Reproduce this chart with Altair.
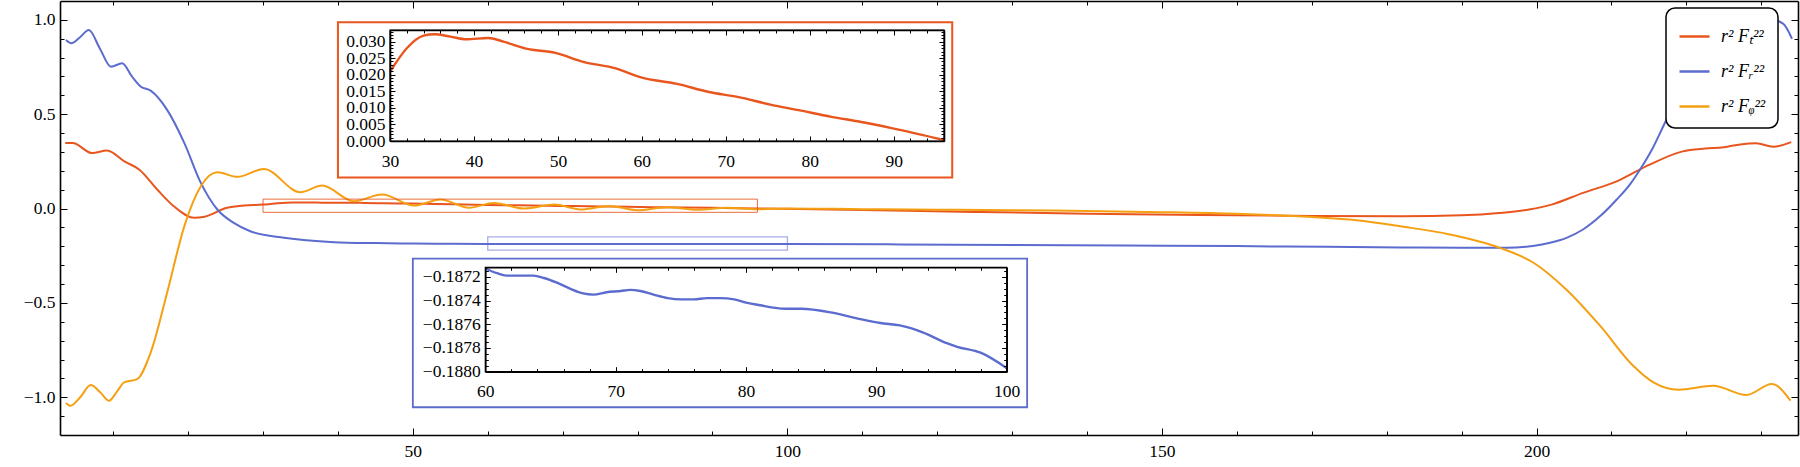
import altair as alt
import pandas as pd

# ---------------- data ----------------
t_x = [3.6, 4.6, 7.2, 9.2, 11.5, 13.5, 15.9, 18.1, 20.8, 22.2, 25.2, 27.5, 30, 32, 34, 35.3, 37.2,
       39.1, 41.7, 43.5, 46.2, 49.7, 53, 56.9, 59.9, 64.1, 68, 71.4, 75.3, 78.7, 82.6, 86, 89.9, 96,
       110, 125, 140, 155, 170, 182, 190, 195, 199, 202, 206.2, 210.7, 215.1, 219.5, 222.5, 225,
       227.2, 229.3, 231.6, 234]
t_y = [0.347, 0.347, 0.294, 0.308, 0.25, 0.206, 0.10, 0.012, -0.049, -0.043, 0.004, 0.016, 0.0209,
       0.028, 0.0318, 0.0322, 0.0315, 0.0307, 0.0311, 0.030, 0.0279, 0.0266, 0.0239, 0.0219, 0.0192,
       0.0173, 0.0148, 0.0133, 0.011, 0.0093, 0.0073, 0.0058, 0.0038, 0.0003, -0.008, -0.018, -0.027,
       -0.034, -0.039, -0.041, -0.036, -0.024, -0.005, 0.021, 0.083, 0.144, 0.233, 0.303, 0.318,
       0.325, 0.34, 0.346, 0.328, 0.352]

r_x = [3.7, 4.4, 5.5, 6.75, 8.2, 9.7, 11.2, 12.5, 13.7, 15, 17.2, 19.5, 21.7, 23.9, 26.1, 28.3,
       32.8, 39.5, 45, 50, 55, 60, 60.9, 61.6, 62.7, 63.7, 64.5, 65.5, 66.5, 67.5, 68.3, 69.3, 70.4,
       71.1, 71.9, 72.9, 74, 75, 76, 77, 78, 79.1, 80.1, 81.1, 82.1, 83.1, 84.2, 86.5, 88.5, 90.3,
       91.8, 93.6, 95.4, 96.2, 98, 100, 115, 130, 145, 160, 172, 182, 190, 196, 199.5, 201.8, 204,
       206.2, 208.5, 210.7, 212.5, 213.8, 215.5, 217.2, 219.5, 222, 225, 228, 230.5, 232.9, 234.1]
r_y = [0.893, 0.876, 0.905, 0.946, 0.85, 0.752, 0.77, 0.7, 0.646, 0.625, 0.523, 0.347, 0.136, -0.005,
       -0.076, -0.12, -0.155, -0.178, -0.183, -0.1855, -0.1868, -0.18713, -0.18717, -0.18719,
       -0.18719, -0.18719, -0.18721, -0.18725, -0.1873, -0.18734, -0.18735, -0.18733, -0.18732,
       -0.18731, -0.18732, -0.18735, -0.18738, -0.18739, -0.18739, -0.18738, -0.18738, -0.18739,
       -0.18742, -0.18744, -0.18746, -0.18747, -0.18747, -0.1875, -0.18755, -0.18759, -0.18761,
       -0.18767, -0.18776, -0.18779, -0.18784, -0.18797, -0.19, -0.193, -0.196, -0.199, -0.203,
       -0.206, -0.208, -0.208, -0.198, -0.181, -0.155, -0.111, -0.04, 0.048, 0.13, 0.206, 0.32,
       0.46, 0.65, 0.84, 0.96, 0.99, 1.01, 0.98, 0.9]

p_x = [3.7, 4.3, 5.6, 7.0, 8.3, 9.45, 10.5, 11.45, 13.2, 15, 17.2, 19.5, 21.7, 23.9, 26.6, 30.1,
       35, 37.9, 42.1, 45.9, 50.2, 53.7, 57.5, 60.8, 64.9, 68.9, 72.4, 76.2, 80, 84, 88, 92, 96, 100,
       110, 120, 130, 140, 150, 160, 170, 176, 181.8, 188.4, 195.1, 199.6, 204, 208.5, 212.9, 215.6,
       219, 223.6, 228, 231.4, 233.9]
p_y = [-1.03, -1.045, -1.0, -0.935, -0.975, -1.018, -0.97, -0.921, -0.904, -0.763, -0.446, -0.093,
       0.118, 0.192, 0.168, 0.21, 0.086, 0.122, 0.039, 0.074, 0.016, 0.048, 0.004, 0.03, 0.0, 0.021,
       -0.005, 0.014, -0.009, 0.007, -0.006, 0.004, -0.004, 0.001, -0.003, -0.006, -0.009, -0.013,
       -0.019, -0.028, -0.045, -0.062, -0.094, -0.137, -0.208, -0.287, -0.43, -0.622, -0.833,
       -0.921, -0.96, -0.939, -0.988, -0.93, -1.018]

series_names = ["r² Fₜ²²", "r² Fᵣ²²", "r² Fᵩ²²"]

main_x_major = [50, 100, 150, 200]
main_y_major = [-1.0, -0.5, 0.0, 0.5, 1.0]
main_x_ticks = list(range(10, 231, 10))
main_y_ticks = [round(-1.1 + 0.1 * i, 1) for i in range(22)]

in1_x_major = [30, 40, 50, 60, 70, 80, 90]
in1_y_major = [0.0, 0.005, 0.01, 0.015, 0.02, 0.025, 0.03]
in1_x_ticks = list(range(30, 97, 2))
in1_y_ticks = [round(0.001 * i, 3) for i in range(34)]

in2_x_major = [60, 70, 80, 90, 100]
in2_y_major = [-0.188, -0.1878, -0.1876, -0.1874, -0.1872]
in2_x_ticks = list(range(60, 101, 2))
in2_y_ticks = [round(-0.188 + 0.00005 * i, 5) for i in range(18)]

zoom_x0 = [30, 60]
zoom_x1 = [96, 100]
zoom_y0 = [-0.02, -0.22]
zoom_y1 = [0.05, -0.15]

frame_x0 = [40, 50]
frame_x1 = [122, 132]
frame_y0 = [0.165, -1.053]
frame_y1 = [0.987, -0.265]

X_MAIN = [2.9, 234.9]
Y_MAIN = [-1.2, 1.1]
X_IN1 = [30, 96]
Y_IN1 = [0.0, 0.0335]
X_IN2 = [60, 100]
Y_IN2 = [-0.188, -0.18712]

# ---------------- layout / style ----------------
W, H = 1738, 434
FONT = "Liberation Serif"
FS = 17.5
RED = "#E8561E"
BLUE = "#5C6CCE"
ORANGE = "#F5A012"

IN1_BOX = dict(left=330, right=884, top=29, bottom=140)
IN2_BOX = dict(left=425.3, right=946.7, top=266.3, bottom=370.7)
MAIN_BOX = dict(left=0, right=W, top=0, bottom=H)


def sc(domain, rng=None):
    if rng is None:
        return alt.Scale(domain=domain, nice=False, zero=False)
    return alt.Scale(domain=domain, range=rng, nice=False, zero=False)


def lab_axis(orient, values, fmt, pad, offset):
    return alt.Axis(orient=orient, values=values, format=fmt, offset=offset, ticks=False,
                    tickSize=0, domain=False, grid=False, labelFont=FONT, labelFontSize=FS,
                    labelColor="black", labelPadding=pad, labelOverlap=False, labelFlush=False,
                    labelBound=False, title=None, zindex=2)


def tick_axis(orient, values, k, big, small, offset, dw=1.5):
    test = f"abs(datum.value*{k} - round(datum.value*{k})) < 0.0001"
    return alt.Axis(orient=orient, values=values, offset=offset, labels=False, ticks=True,
                    tickColor="black", tickWidth=1,
                    tickSize={"condition": {"test": test, "value": big}, "value": small},
                    domain=True, domainColor="black", domainWidth=dw, grid=False, title=None,
                    zindex=2)


def low_axes(box, xt, yt, kx, ky, big, small, dw):
    # ticks on the bottom side (pointing up) and left side (pointing right)
    return (tick_axis("top", xt, kx, big, small, -box["bottom"], dw),
            tick_axis("right", yt, ky, big, small, box["left"] - W, dw))


def high_axes(box, xt, yt, kx, ky, big, small, dw):
    # ticks on the top side (pointing down) and right side (pointing left)
    return (tick_axis("bottom", xt, kx, big, small, box["top"] - H, dw),
            tick_axis("left", yt, ky, big, small, -box["right"], dw))


def rect_df(x0, x1, y0, y1):
    return pd.DataFrame({"x0": x0, "x1": x1, "y0": y0, "y1": y1})


def rect_layer(data, xs, ys, xaxis, yaxis, **mk):
    return alt.Chart(data).mark_rect(**mk).encode(
        x=alt.X("x0:Q", scale=xs, axis=xaxis), x2="x1:Q",
        y=alt.Y("y0:Q", scale=ys, axis=yaxis), y2="y1:Q")


df = pd.concat([
    pd.DataFrame({"x": t_x, "y": t_y, "series": series_names[0]}),
    pd.DataFrame({"x": r_x, "y": r_y, "series": series_names[1]}),
    pd.DataFrame({"x": p_x, "y": p_y, "series": series_names[2]}),
], ignore_index=True)

# ---------------- main panel ----------------
lines = alt.Chart(df).mark_line(strokeWidth=2, interpolate="monotone", clip=True).encode(
    x=alt.X("x:Q", scale=sc(X_MAIN), axis=lab_axis("bottom", main_x_major, "d", 7, 0)),
    y=alt.Y("y:Q", scale=sc(Y_MAIN), axis=lab_axis("left", main_y_major, ".1f", 5, 0)),
    color=alt.Color("series:N", scale=alt.Scale(domain=series_names, range=[RED, BLUE, ORANGE]),
                    legend=alt.Legend(orient="none", legendX=1606, legendY=7, title=None,
                                      symbolType="stroke", symbolSize=900, symbolStrokeWidth=2.5,
                                      labelFont=FONT, labelFontSize=18, labelFontStyle="italic",
                                      labelColor="black", labelOffset=10, rowPadding=9,
                                      padding=12, fillColor="white", strokeColor="black",
                                      cornerRadius=9)),
)

lx, ly = low_axes(MAIN_BOX, main_x_ticks, main_y_ticks, 0.02, 2, 7, 4, 1.6)
hx, hy = high_axes(MAIN_BOX, main_x_ticks, main_y_ticks, 0.02, 2, 7, 4, 1.6)

zoom = rect_df(zoom_x0, zoom_x1, zoom_y0, zoom_y1)
frames = rect_df(frame_x0, frame_x1, frame_y0, frame_y1)

zoom_red = rect_layer(zoom.iloc[[0]], sc(X_MAIN), sc(Y_MAIN), lx, ly,
                      fillOpacity=0, stroke=RED, strokeWidth=1, strokeOpacity=0.85)
zoom_blue = rect_layer(zoom.iloc[[1]], sc(X_MAIN), sc(Y_MAIN), None, None,
                       fillOpacity=0, stroke=BLUE, strokeWidth=1.3, strokeOpacity=0.55)
frame_red = rect_layer(frames.iloc[[0]], sc(X_MAIN), sc(Y_MAIN), hx, hy,
                       fill="white", stroke=RED, strokeWidth=2)
frame_blue = rect_layer(frames.iloc[[1]], sc(X_MAIN), sc(Y_MAIN), None, None,
                        fill="white", stroke=BLUE, strokeWidth=1.8)


# ---------------- insets ----------------
def inset(data, color, xd, yd, box, xmaj, ymaj, xt, yt, fx, fy, kx, ky):
    xr = [box["left"], box["right"]]
    yr = [box["bottom"], box["top"]]
    bg = rect_df([xd[0]], [xd[1]], [yd[0]], [yd[1]])
    a1, a2 = low_axes(box, xt, yt, kx, ky, 5, 3, 1.6)
    b1, b2 = high_axes(box, xt, yt, kx, ky, 5, 3, 1.6)
    back = rect_layer(bg, sc(xd, xr), sc(yd, yr), a1, a2, fill="white")
    line = alt.Chart(data).mark_line(strokeWidth=2.4, interpolate="monotone", color=color).encode(
        x=alt.X("x:Q", scale=sc(xd, xr), axis=lab_axis("bottom", xmaj, fx, 11, box["bottom"] - H)),
        y=alt.Y("y:Q", scale=sc(yd, yr), axis=lab_axis("left", ymaj, fy, 5, -box["left"])),
    )
    edge = rect_layer(bg, sc(xd, xr), sc(yd, yr), b1, b2, fillOpacity=0, stroke="black",
                      strokeWidth=1.2)
    return [back, line, edge]


d1 = pd.DataFrame({"x": t_x, "y": t_y})
d1 = d1[(d1.x >= X_IN1[0]) & (d1.x <= X_IN1[1])]
d2 = pd.DataFrame({"x": r_x, "y": r_y})
d2 = d2[(d2.x >= X_IN2[0]) & (d2.x <= X_IN2[1])]

in1 = inset(d1, RED, X_IN1, Y_IN1, IN1_BOX, in1_x_major, in1_y_major, in1_x_ticks, in1_y_ticks,
            "d", ".3f", 0.1, 200)
in2 = inset(d2, BLUE, X_IN2, Y_IN2, IN2_BOX, in2_x_major, in2_y_major, in2_x_ticks, in2_y_ticks,
            "d", ".4f", 0.1, 5000)

chart = alt.layer(lines, zoom_red, zoom_blue, frame_red, frame_blue, *in1, *in2).resolve_scale(
    x="independent", y="independent"
).properties(
    width=W, height=H,
    padding={"left": 60, "top": 1, "right": 2, "bottom": 32},
    autosize=alt.AutoSizeParams(type="none"),
    background="white",
).configure_view(stroke=None).configure_legend(strokeWidth=1.5)

chart.save("out.html", embed_options={"renderer": "svg", "actions": False})
